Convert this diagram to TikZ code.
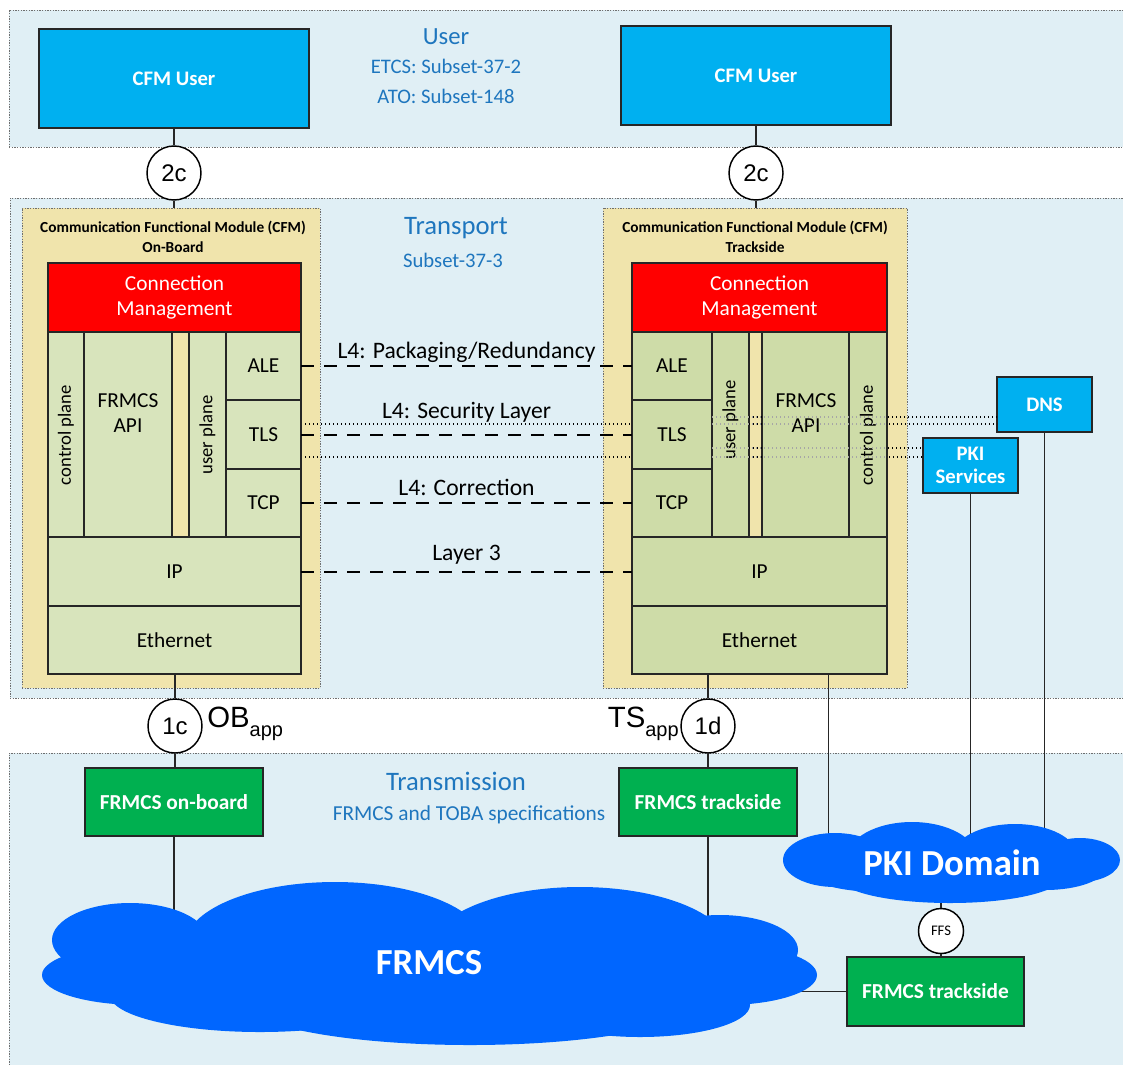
\documentclass[tikz,border=0pt]{standalone}
\usepackage{fontspec}
\setmainfont{Carlito}
\newfontfamily\arialf{Liberation Sans}
\usetikzlibrary{fit,calc}
\definecolor{bandfill}{RGB}{224,239,245}
\definecolor{bandline}{RGB}{110,110,110}
\definecolor{cfmyellow}{RGB}{240,228,172}
\definecolor{layerL}{RGB}{216,228,188}
\definecolor{layerR}{RGB}{206,220,168}
\definecolor{userblue}{RGB}{0,176,240}
\definecolor{titleblue}{RGB}{30,118,190}
\definecolor{cmred}{RGB}{255,0,0}
\definecolor{boxgreen}{RGB}{0,176,80}
\definecolor{cloudblue}{RGB}{0,102,255}
\begin{document}
\begin{tikzpicture}[x=0.75pt,y=-0.75pt,
  sz/.style 2 args={minimum width=#1*0.75pt, minimum height=#2*0.75pt},
  band/.style={draw=bandline, fill=bandfill, line width=0.7pt, dash pattern=on 1pt off 1pt, inner sep=0pt, outer sep=0pt},
  cfmbox/.style={draw=bandline, fill=cfmyellow, line width=0.7pt, dash pattern=on 1pt off 1pt, inner sep=0pt, outer sep=0pt},
  lay/.style={draw=black!85, line width=0.8pt, inner sep=0pt, outer sep=0pt, font=\fontsize{16}{19}\selectfont, align=center},
  layl/.style={lay, fill=layerL},
  layr/.style={lay, fill=layerR},
  cmbox/.style={lay, fill=cmred, text=white},
  userbox/.style={draw=black!85, line width=0.9pt, fill=userblue, inner sep=0pt, outer sep=0pt, text=white, font=\bfseries\fontsize{15.5}{17}\selectfont, align=center},
  greenbox/.style={draw=black!85, line width=0.9pt, fill=boxgreen, inner sep=0pt, outer sep=0pt, text=white, font=\bfseries\fontsize{16}{18}\selectfont},
  ifc/.style={circle, draw=black, line width=1.1pt, fill=white, minimum size=40.5pt, inner sep=0pt, font=\arialf\fontsize{18}{18}\selectfont},
  hdr/.style={text=titleblue, font=\fontsize{#1}{22}\selectfont},
  subhdr/.style={text=titleblue, font=\fontsize{#1}{18}\selectfont},
  cfmtitle/.style={font=\bfseries\fontsize{11.5}{14.5}\selectfont, align=center},
  vlabel/.style={rotate=90, font=\fontsize{14}{16}\selectfont},
  conn/.style={draw=black!85, line width=0.9pt},
  dconn/.style={draw=black, line width=1.5pt, dash pattern=on 9.75pt off 7.5pt},
  dlabel/.style={font=\fontsize{17.7}{20}\selectfont},
  dotl/.style={draw=black, line width=1pt, dash pattern=on 1pt off 2pt},
  dotg/.style={draw=black!35, line width=1pt, dash pattern=on 1pt off 2pt},
  cloudtxt/.style={text=white, font=\bfseries\fontsize{27.5}{30}\selectfont},
]
\useasboundingbox (0,0) rectangle (1123,1064);
\fill[white] (0,0) rectangle (1123,1064);

% bands
\node[band, fit={(9,10)(1123,147)}] (bUser) {};
\node[band, fit={(10,198)(1123,698)}] (bTrans) {};
\node[band, fit={(9,753)(1123,1070)}] (bTx) {};

\node[hdr=18.5] (tUser) at (446,37) {User};
\node[subhdr=15.5] (tEtcs) at (446,66) {ETCS: Subset-37-2};
\node[subhdr=15.5] (tAto) at (446,96) {ATO: Subset-148};
\node[hdr=20] (tTransport) at (456,228) {Transport};
\node[subhdr=15.5] (tS373) at (453,260) {Subset-37-3};
\node[hdr=20] (tTx) at (456,781) {Transmission};
\node[subhdr=16] (tTxs) at (469,815) {FRMCS and TOBA specifications};

% CFM user boxes
\node[userbox, sz={270}{99}] (userL) at (174,78.5) {CFM User};
\node[userbox, sz={270}{99}] (userR) at (756,75.5) {CFM User};

% CFM modules
\node[cfmbox, fit={(22,208)(320,688)}] (cfmL) {};
\node[cfmbox, fit={(603,208)(907,688)}] (cfmR) {};
\node[cfmtitle] (cfmLt) at (173,237) {Communication Functional Module (CFM)\\On-Board};
\node[cfmtitle] (cfmRt) at (755,237) {Communication Functional Module (CFM)\\Trackside};

% DNS / PKI services
\node[userbox, sz={95}{55}] (dns) at (1044.5,404.5) {DNS};
\node[userbox, sz={95}{55}, font=\bfseries\fontsize{15.5}{17}\selectfont] (pkis) at (970.5,465.5) {PKI\\Services};

% long dotted lines (behind stacks)
\coordinate (dA) at (305,424);
\coordinate (dB) at (305,457);
\coordinate (dC) at (712,417);
\coordinate (dD) at (712,448);
\draw[dotl] (dA) -- (dA -| dns.west);
\draw[dotl] (dB) -- (dB -| pkis.west);
\draw[dotl] (dC) -- (dC -| dns.west);
\draw[dotl] (dD) -- (dD -| pkis.west);

% left stack
\node[cmbox, sz={253}{69}] (cmL) at (174.5,297.5) {Connection\\Management};
\node[layl, sz={36}{205}] (cpL) at (66,434.5) {};
\node[layl, sz={88}{205}] (apiL) at (128,434.5) {};
\node[layl, sz={37}{205}] (upL) at (207.5,434.5) {};
\node[layl, sz={75}{68}] (aleL) at (263.5,366) {ALE};
\node[layl, sz={75}{69}] (tlsL) at (263.5,434.5) {TLS};
\node[layl, sz={75}{68}] (tcpL) at (263.5,503) {TCP};
\node[layl, sz={253}{69}] (ipL) at (174.5,571.5) {IP};
\node[layl, sz={253}{68}] (ethL) at (174.5,640) {Ethernet};
\node[vlabel] (cpLt) at (66,435) {control plane};
\node[vlabel] (upLt) at (207.5,435) {user plane};
\node[lay, draw=none] (apiLt) at (128,413) {FRMCS\\API};

% right stack
\node[cmbox, sz={255}{69}] (cmR) at (759.5,297.5) {Connection\\Management};
\node[layr, sz={80}{68}] (aleR) at (672,366) {ALE};
\node[layr, sz={80}{69}] (tlsR) at (672,434.5) {TLS};
\node[layr, sz={80}{68}] (tcpR) at (672,503) {TCP};
\node[layr, sz={37}{205}] (upR) at (730.5,434.5) {};
\node[layr, sz={87}{205}] (apiR) at (805.5,434.5) {};
\node[layr, sz={38}{205}] (cpR) at (868,434.5) {};
\node[layr, sz={255}{69}] (ipR) at (759.5,571.5) {IP};
\node[layr, sz={255}{68}] (ethR) at (759.5,640) {Ethernet};
\node[vlabel] (upRt) at (730.5,420) {user plane};
\node[vlabel] (cpRt) at (868,435) {control plane};
\node[lay, draw=none] (apiRt) at (806,413) {FRMCS\\API};

% faint dotted overlay inside right stack
\draw[dotg] (dA -| upR.west) -- (dA -| cpR.east);
\draw[dotg] (dB -| upR.west) -- (dB -| cpR.east);
\draw[dotg] (dC -| upR.west) -- (dC -| cpR.east);
\draw[dotg] (dD -| upR.west) -- (dD -| cpR.east);
\draw[dotl] (dA -| upR.east) -- (dA -| apiR.west);
\draw[dotl] (dB -| upR.east) -- (dB -| apiR.west);
\draw[dotl] (dC -| upR.east) -- (dC -| apiR.west);
\draw[dotl] (dD -| upR.east) -- (dD -| apiR.west);

% dashed peer connectors
\draw[dconn] (aleL.east) -- (aleR.west) node[midway, yshift=10.5pt, dlabel] (lA) {L4: Packaging/Redundancy};
\draw[dconn] (tlsL.east) -- (tlsR.west) node[midway, yshift=16.5pt, dlabel] (lB) {L4: Security Layer};
\draw[dconn] (tcpL.east) -- (tcpR.west) node[midway, yshift=12pt, dlabel] (lC) {L4: Correction};
\draw[dconn] (ipL.east) -- (ipR.west) node[midway, yshift=12.75pt, dlabel] (lD) {Layer 3};

% interface circles
\node[ifc] (c2L) at (174,173) {2c};
\node[ifc] (c2R) at (756,173) {2c};
\node[ifc] (c1c) at (175,726) {1c};
\node[ifc] (c1d) at (708,726) {1d};
\node[ifc, minimum size=33.75pt, font=\fontsize{11}{11}\selectfont] (ffs) at (941,931) {FFS};

\node[anchor=west, inner sep=0pt, font=\arialf\fontsize{22}{22}\selectfont] (obapp) at (207,724) {OB\raisebox{-0.3em}{\fontsize{15}{15}\selectfont app}};
\node[anchor=east, inner sep=0pt, font=\arialf\fontsize{22}{22}\selectfont] (tsapp) at (679,724) {TS\raisebox{-0.3em}{\fontsize{15}{15}\selectfont app}};

% green boxes
\node[greenbox, sz={178}{68}] (onb) at (174,802) {FRMCS on-board};
\node[greenbox, sz={178}{68}] (ts1) at (708,802) {FRMCS trackside};
\node[greenbox, sz={177}{69}] (ts2) at (935.5,991.5) {FRMCS trackside};

% cloud text anchors
\node[cloudtxt] (frmcs) at (429,963) {FRMCS};
\node[cloudtxt] (pki) at (952,863) {PKI Domain};

% connectors
\draw[conn] (userL.south) -- (c2L.north);
\draw[conn] (c2L.south) -- (c2L.south |- cfmL.north);
\draw[conn] (userR.south) -- (c2R.north);
\draw[conn] (c2R.south) -- (c2R.south |- cfmR.north);
\draw[conn] (c1c.north |- ethL.south) -- (c1c.north);
\draw[conn] (c1c.south) -- (c1c.south |- onb.north);
\draw[conn] (c1d.north |- ethR.south) -- (c1d.north);
\draw[conn] (c1d.south) -- (c1d.south |- ts1.north);
\draw[conn] (onb.south) -- (onb.south |- frmcs.north);
\draw[conn] (ts1.south) -- (ts1.south |- frmcs.north);
\coordinate (ethPki) at ($(ethR.south west)!0.77!(ethR.south east)$);
\draw[conn] (ethPki) -- (ethPki |- pki.north);
\draw[conn] (pkis.south) -- (pkis.south |- pki.north);
\draw[conn] (dns.south) -- (dns.south |- pki.north);
\draw[conn] (ffs.north) -- (ffs.north |- pki.south);
\draw[conn] (ffs.south) -- (ffs.south |- ts2.north);
\draw[conn] (ts2.west) -- (ts2.west -| frmcs.east);

% clouds
\begin{scope}[fill=cloudblue]
\fill (130,940) ellipse [x radius=78, y radius=37];
\fill (140,975) ellipse [x radius=98, y radius=30];
\fill (335,945) ellipse [x radius=150, y radius=63];
\fill (580,950) ellipse [x radius=150, y radius=63];
\fill (260,995) ellipse [x radius=150, y radius=37];
\fill (470,1000) ellipse [x radius=230, y radius=45];
\fill (720,950) ellipse [x radius=78, y radius=35];
\fill (725,975) ellipse [x radius=92, y radius=30];
\fill (640,1005) ellipse [x radius=110, y radius=32];
\fill (835,860) ellipse [x radius=52, y radius=27];
\fill (912,858) ellipse [x radius=65, y radius=36];
\fill (1015,856) ellipse [x radius=62, y radius=32];
\fill (1080,860) ellipse [x radius=40, y radius=22];
\fill (950,878) ellipse [x radius=110, y radius=25];
\fill (880,870) ellipse [x radius=75, y radius=22];
\fill (1045,868) ellipse [x radius=60, y radius=22];
\end{scope}
\node[cloudtxt] at (frmcs) {FRMCS};
\node[cloudtxt] at (pki) {PKI Domain};
\end{tikzpicture}
\end{document}
